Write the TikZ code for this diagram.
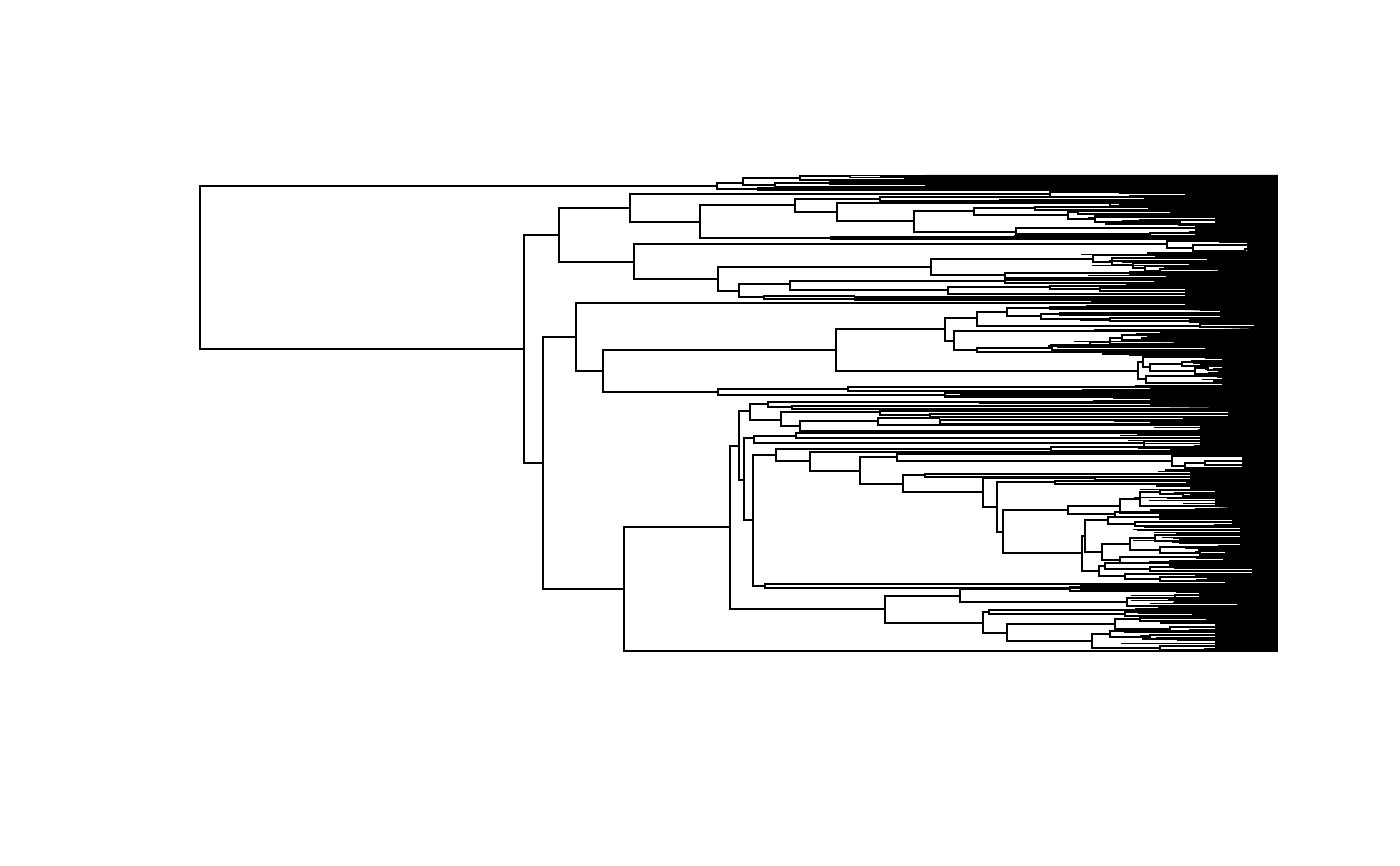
\documentclass[tikz,border=0pt]{standalone}
\begin{document}
\begin{tikzpicture}[x=1pt,y=-1pt]
\tikzset{tr/.style={line width=1.8pt, line join=miter, line cap=butt}, tip/.style={line width=1.2pt}}
\newcommand\br[5]{\draw[tr] (#3,#2) -- (#1,#2) -- (#1,#4) -- (#5,#4);}
\def\TE{1277}
\fill[white] (0,0) rectangle (1400,866);
\useasboundingbox (0,0) rectangle (1400,866);
% dense tip region
\fill[black] (925,175) -- (925,187) -- (1060,188) -- (1060,190) -- (1185,190) -- (1185,200) -- (1237,201) -- (1237,205) -- (1200,206) -- (1200,215) -- (1215,216) -- (1215,225) -- (1195,226) -- (1195,236) -- (1215,237) -- (1215,241) -- (1247,242) -- (1247,252) -- (1225,253) -- (1225,262) -- (1212,263) -- (1212,270) -- (1232,271) -- (1232,277) -- (1218,278) -- (1218,285) -- (1185,286) -- (1185,310) -- (1220,311) -- (1220,320) -- (1257,322) -- (1257,328) -- (1190,330) -- (1160,331) -- (1160,342) -- (1205,343) -- (1205,352) -- (1222,353) -- (1222,385) -- (1150,386) -- (1150,407) -- (1228,408) -- (1228,422) -- (1200,423) -- (1200,456) -- (1242,457) -- (1242,469) -- (1190,470) -- (1190,490) -- (1215,491) -- (1215,507) -- (1232,508) -- (1232,527) -- (1240,528) -- (1240,546) -- (1225,547) -- (1225,566) -- (1252,567) -- (1252,574) -- (1225,575) -- (1225,583) -- (1080,584) -- (1080,590) -- (1237,591) -- (1237,609) -- (1215,610) -- (1215,651.9) -- (1277.9,651.9) -- (1277.9,175) -- cycle;
% fine tip lines
\pgfmathsetseed{4242}
\foreach \ya/\yb/\xa/\xw in {176/189/830/170, 190.5/240/1080/140, 253/321/1080/140, 330/356/1040/160, 357/384/1185/35, 386/409/900/260, 410/455/1080/140, 470/565/1130/100, 575/582/1140/80, 591/650/1120/110}{
  \pgfmathsetmacro\ys{\ya+1.6}
  \foreach \y in {\ya,\ys,...,\yb}{
    \pgfmathsetmacro\xs{\xa+\xw*rnd}
    \draw[tip] (\xs,\y) -- (\TE,\y);
  }
}
% root
\br{200}{186}{717}{349}{524}
% top band
\br{717}{183}{743}{189}{758}
\br{743}{178}{800}{185}{775}
\br{800}{176}{850}{180}{905}
\br{850}{175.5}{\TE}{177.5}{\TE}
\br{905}{179}{\TE}{181}{\TE}
\br{775}{183}{830}{187}{\TE}
\br{830}{182}{\TE}{184}{\TE}
\br{758}{188}{850}{190}{\TE}
\br{850}{187}{\TE}{189}{\TE}
% group A
\br{524}{235}{559}{463}{543}
\br{559}{208}{630}{262}{634}
\br{630}{194}{1050}{222}{700}
\br{1050}{192}{1120}{197}{1185}
\br{1120}{191}{\TE}{193}{\TE}
\br{1185}{196}{\TE}{198}{\TE}
\br{700}{205}{795}{238}{831}
\br{795}{199}{880}{212}{837}
\br{880}{197}{\TE}{201}{1000}
\br{1000}{200}{\TE}{202}{\TE}
\br{837}{203}{1110}{221}{914}
\br{1110}{203}{\TE}{206}{1230}
\br{1230}{205}{\TE}{207}{\TE}
\br{914}{211}{974}{232}{1016}
\br{974}{208}{1035}{215}{1068}
\br{1035}{207}{\TE}{210}{1160}
\br{1160}{209}{\TE}{211}{\TE}
\br{1068}{212}{1078}{219}{1095}
\br{1078}{211}{\TE}{214}{1180}
\br{1180}{213}{\TE}{215}{\TE}
\br{1095}{216}{1175}{222}{1180}
\br{1175}{215}{\TE}{217}{\TE}
\br{1180}{220}{\TE}{224}{\TE}
\br{1016}{228}{\TE}{234}{1150}
\br{1150}{233}{\TE}{236}{\TE}
\br{831}{237}{1015}{239}{\TE}
\br{1015}{236}{\TE}{238}{\TE}
% group B
\br{634}{244}{1167}{279}{718}
\br{1167}{241}{1220}{248}{1193}
\br{1220}{240}{\TE}{242}{\TE}
\br{1193}{245}{\TE}{251}{1245}
\br{1245}{249}{\TE}{252}{\TE}
\br{718}{267}{931}{291}{739}
\br{931}{259}{1093}{275}{1005}
\br{1093}{255}{\TE}{262}{1112}
\br{1112}{258}{\TE}{265}{1133}
\br{1133}{263}{\TE}{268}{1145}
\br{1145}{266}{\TE}{271}{1160}
\br{1160}{269}{\TE}{272}{\TE}
\br{1005}{273}{1130}{278}{\TE}
\br{1130}{272}{\TE}{274}{\TE}
\br{739}{284}{790}{297}{764}
\br{790}{281}{1005}{290}{948}
\br{1005}{280}{\TE}{283}{1155}
\br{1155}{282}{\TE}{285}{\TE}
\br{948}{287}{1050}{294}{\TE}
\br{1050}{286}{\TE}{289}{1100}
\br{1100}{288}{\TE}{291}{\TE}
\br{764}{296}{855}{299}{\TE}
\br{855}{297}{\TE}{300}{\TE}
% group C
\br{543}{337}{576}{589}{624}
\br{576}{303}{1200}{371}{603}
\br{1200}{301}{\TE}{305}{\TE}
\br{603}{350}{836}{392}{718}
\br{836}{329}{945}{371}{1138}
\br{945}{318}{977}{341}{954}
\br{977}{312}{1007}{326}{1200}
\br{1007}{308}{1050}{316}{1041}
\br{1050}{307}{\TE}{309}{\TE}
\br{1041}{314}{1060}{319}{1110}
\br{1060}{313}{\TE}{315}{\TE}
\br{1110}{318}{\TE}{321}{1190}
\br{1190}{320}{\TE}{322}{\TE}
\br{1200}{324}{\TE}{327}{1255}
\br{1255}{326}{\TE}{328}{\TE}
\br{954}{331}{\TE}{350}{977}
\br{977}{348}{1052}{352}{\TE}
\br{1052}{345}{1090}{350}{\TE}
\br{1090}{342}{1110}{347}{\TE}
\br{1110}{338}{1122}{344}{\TE}
\br{1122}{335}{\TE}{340}{\TE}
\br{1138}{362}{1143}{379}{1146}
\br{1143}{357}{\TE}{367}{1150}
\br{1150}{364}{1182}{371}{1195}
\br{1182}{362}{\TE}{366}{\TE}
\br{1195}{368}{1208}{374}{\TE}
\br{1208}{366}{\TE}{370}{\TE}
\br{1146}{376}{\TE}{383}{\TE}
\br{718}{389}{848}{395}{945}
\br{848}{387}{\TE}{391}{\TE}
\br{945}{393}{1000}{397}{\TE}
\br{1000}{392}{\TE}{395}{\TE}
% group D
\br{624}{527}{730}{651}{\TE}
\br{730}{446}{739}{609}{885}
\br{739}{411}{750}{480}{744}
\br{750}{404}{768}{420}{781}
\br{768}{402}{1129}{407}{792}
\br{1129}{401}{\TE}{403}{\TE}
\br{792}{406}{\TE}{409}{\TE}
\br{781}{412}{880}{426}{800}
\br{880}{411}{\TE}{415}{930}
\br{930}{414}{\TE}{417}{\TE}
\br{800}{421}{878}{431}{\TE}
\br{878}{418}{940}{425}{\TE}
\br{940}{420}{\TE}{424}{\TE}
\br{744}{438}{754}{520}{753}
\br{754}{436}{796}{443}{1144}
\br{796}{433}{\TE}{438}{\TE}
\br{1144}{441}{\TE}{447}{\TE}
\br{753}{455}{776}{586}{765}
\br{765}{584}{\TE}{588}{\TE}
\br{776}{449}{1051}{461}{810}
\br{1051}{447}{\TE}{451}{\TE}
\br{810}{452}{\TE}{471}{860}
\br{860}{457}{897}{484}{903}
\br{897}{454}{\TE}{461}{1172}
\br{1172}{456}{\TE}{466}{1185}
\br{1185}{463}{1205}{468}{\TE}
\br{1205}{461}{\TE}{465}{\TE}
\br{903}{475}{925}{492}{983}
\br{925}{474}{\TE}{477}{\TE}
\br{983}{478}{1095}{507}{997}
\br{1095}{477}{\TE}{480}{\TE}
\br{997}{482}{1055}{532}{1003}
\br{1055}{481}{\TE}{484}{\TE}
\br{1003}{510}{1068}{553}{1082}
\br{1068}{506}{1120}{514}{1115}
\br{1120}{499}{1140}{513}{\TE}
\br{1140}{492}{1160}{506}{\TE}
\br{1160}{490}{\TE}{494}{1183}
\br{1183}{493}{\TE}{496}{\TE}
\br{1115}{512}{\TE}{517}{1160}
\br{1160}{515}{\TE}{519}{\TE}
\br{1082}{536}{1085}{571}{1099}
\br{1085}{520}{1108}{552}{1102}
\br{1108}{517}{\TE}{524}{1135}
\br{1135}{522}{\TE}{526}{\TE}
\br{1102}{544}{1130}{560}{1120}
\br{1130}{538}{1155}{550}{1160}
\br{1155}{535}{\TE}{541}{1180}
\br{1180}{539}{\TE}{543}{\TE}
\br{1160}{547}{\TE}{553}{1200}
\br{1200}{551}{\TE}{555}{\TE}
\br{1120}{557}{\TE}{563}{1170}
\br{1170}{561}{\TE}{565}{\TE}
\br{1099}{566}{1105}{576}{1125}
\br{1105}{563}{\TE}{569}{1150}
\br{1150}{567}{1175}{571}{\TE}
\br{1175}{566}{\TE}{568}{\TE}
\br{1125}{574}{\TE}{579}{1160}
\br{1160}{577}{\TE}{581}{\TE}
\br{885}{596}{960}{623}{983}
\br{960}{589}{1070}{602}{1127}
\br{1070}{587}{\TE}{591}{\TE}
\br{1127}{598}{1175}{606}{\TE}
\br{1175}{595}{1200}{601}{\TE}
\br{1200}{593}{\TE}{597}{\TE}
\br{983}{612}{989}{633}{1007}
\br{989}{610}{\TE}{614}{1125}
\br{1125}{612}{\TE}{616}{\TE}
\br{1007}{624}{1115}{641}{1092}
\br{1115}{619}{1140}{629}{1170}
\br{1140}{617}{\TE}{621}{\TE}
\br{1170}{627}{\TE}{631}{\TE}
\br{1092}{634}{1110}{648}{1160}
\br{1110}{631}{\TE}{637}{1150}
\br{1150}{635}{\TE}{639}{\TE}
\br{1160}{646}{\TE}{650}{\TE}
\end{tikzpicture}
\end{document}
